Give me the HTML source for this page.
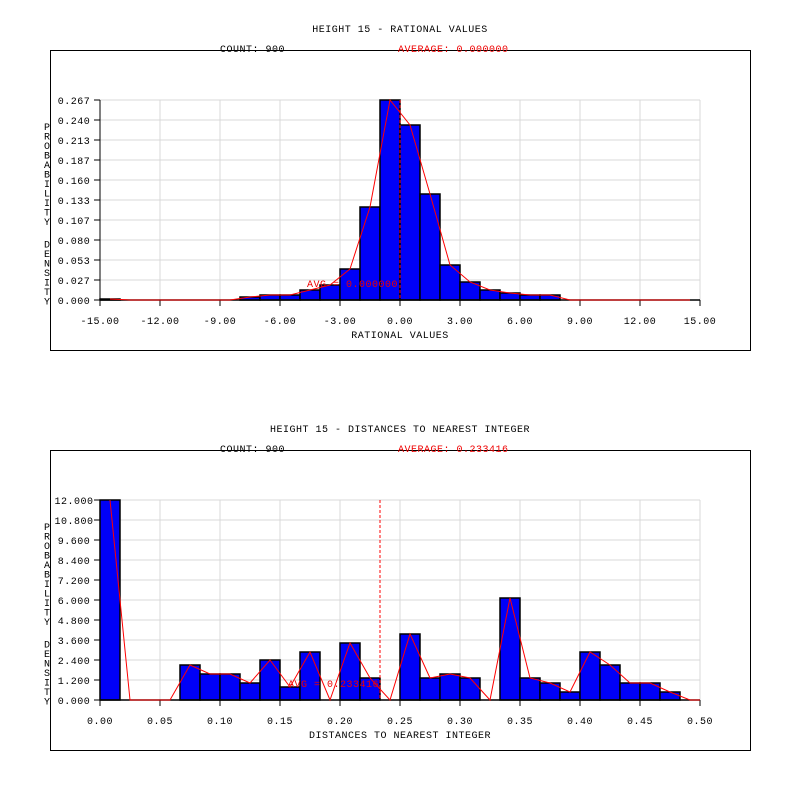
<!DOCTYPE html>
<html><head><style>
body{margin:0;background:#fff;overflow:hidden}
svg text{font-family:"Liberation Mono",monospace;font-size:10px;letter-spacing:0.5px}
</style></head><body>
<svg id="s" width="800" height="800" xmlns="http://www.w3.org/2000/svg"></svg>
<script>
const s=document.getElementById('s');let h='';
function chart(oy,title,count,avg,xlabels,ylabels,tops,lineX,avgLabel,avgLX,xname,pts){
  const top=oy+100,bot=oy+300;
  h+=`<rect x="50.5" y="${oy+50.5}" width="700" height="300" fill="none" stroke="#000"/>`;
  h+=`<text x="400" y="${oy+32}" text-anchor="middle">${title}</text>`;
  h+=`<text x="220" y="${oy+52}">COUNT: ${count}</text>`;
  h+=`<text x="398" y="${oy+52}" fill="#e00">AVERAGE: ${avg}</text>`;
  for(let i=0;i<=10;i++){const y=top+i*20;h+=`<line x1="100" x2="700" y1="${y}" y2="${y}" stroke="#d8d8d8"/>`;}
  for(let i=0;i<=10;i++){const x=100+i*60;h+=`<line x1="${x}" x2="${x}" y1="${top}" y2="${bot}" stroke="#d8d8d8"/>`;}
  tops.forEach((t,i)=>{const yy=oy+t;if(yy<bot)h+=`<rect x="${100+i*20}" y="${yy}" width="20" height="${bot-yy}" fill="#0000f8" stroke="#000" stroke-width="1.5"/>`;});
  h+=`<line x1="100" x2="700" y1="${bot}" y2="${bot}" stroke="#000" stroke-width="1.5"/>`;
  h+=`<line x1="100" x2="100" y1="${top}" y2="${bot}" stroke="#000"/>`;
  for(let i=0;i<=10;i++){const y=top+i*20;h+=`<line x1="94" x2="100" y1="${y}" y2="${y}" stroke="#000"/>`;h+=`<text x="74" y="${y+4}" text-anchor="middle">${ylabels[i]}</text>`;}
  for(let i=0;i<=10;i++){const x=100+i*60;h+=`<line x1="${x}" x2="${x}" y1="${bot}" y2="${bot+6}" stroke="#000"/>`;h+=`<text x="${x}" y="${bot+24}" text-anchor="middle">${xlabels[i]}</text>`;}
  h+=`<polyline fill="none" stroke="#f00" stroke-width="1" points="${pts.map(p=>p[0]+','+(oy+p[1])).join(' ')}"/>`;
  h+=`<line x1="${lineX}" x2="${lineX}" y1="${top}" y2="${bot}" stroke="#f00" stroke-dasharray="3,2"/>`;
  h+=`<text x="${avgLX}" y="${bot-13}" fill="#e00">${avgLabel}</text>`;
  h+=`<text x="400" y="${bot+38}" text-anchor="middle">${xname}</text>`;
  const v="PROBABILITY DENSITY";let y=top+30;
  for(const c of v){if(c!==' ')h+=`<text x="44" y="${y}" font-size="9">${c}</text>`;y+=c===' '?13:9.5;}
}
const t1=[299,300,300,300,300,300,300,297,295,295,290,285,269,207,100,125,194,265,282,290,293,295,295,300,300,300,300,300,300,300];
let p1=t1.map((t,i)=>[110+i*20,t]);
chart(0,"HEIGHT 15 - RATIONAL VALUES","900","0.000000",
 ["-15.00","-12.00","-9.00","-6.00","-3.00","0.00","3.00","6.00","9.00","12.00","15.00"],
 ["0.267","0.240","0.213","0.187","0.160","0.133","0.107","0.080","0.053","0.027","0.000"],
 t1,400,"AVG = 0.000000",307,"RATIONAL VALUES",p1);
const t2=[100,300,300,300,265,274,274,283,260,287,252,300,243,278,300,234,278,274,278,300,198,278,283,292,252,265,283,283,292,300];
let p2=t2.map((t,i)=>[110+i*20,t]);p2.push([700,300]);
chart(400,"HEIGHT 15 - DISTANCES TO NEAREST INTEGER","900","0.233416",
 ["0.00","0.05","0.10","0.15","0.20","0.25","0.30","0.35","0.40","0.45","0.50"],
 ["12.000","10.800","9.600","8.400","7.200","6.000","4.800","3.600","2.400","1.200","0.000"],
 t2,380,"AVG = 0.233416",288,"DISTANCES TO NEAREST INTEGER",p2);
s.innerHTML=h;
</script>
</body></html>
